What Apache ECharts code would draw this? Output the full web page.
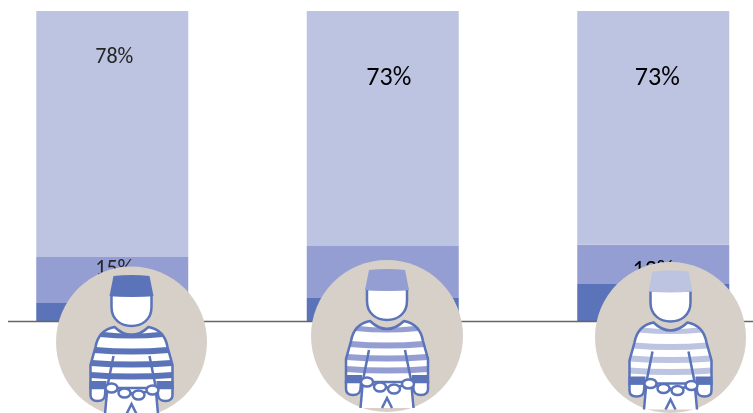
<!DOCTYPE html>
<html><head><meta charset="utf-8">
<style>html,body{margin:0;padding:0;background:#fff}#c{width:753px;height:413px}</style>
<script src="https://cdn.jsdelivr.net/npm/echarts@6/dist/echarts.min.js"></script>
</head><body><div id="c"></div>
<script>
const categories = ['A', 'B', 'C'];
const darkValues = [6.1, 7.7, 12.2];
const midValues = [14.8, 16.7, 12.6];
const lightValues = [79.1, 75.6, 75.2];
const lightLabels = ['78%', '73%', '73%'];
const midLabels = ['15%', '', '13%'];

const DARK = '#5a73b9', MID = '#949ed2', LIGHT = '#bcc4e1', DISC = '#d6d0c9';
const lightLabelStyles = [
  {fontSize: 22, color: '#262626', offset: [2, 35]},
  {fontSize: 26, color: '#000', offset: [6, 54]},
  {fontSize: 26, color: '#000', offset: [4, 54]}
];
const midLabelStyles = [
  {fontSize: 22, color: '#262626', offset: [2, 1]},
  {fontSize: 20, color: '#262626', offset: [0, 0]},
  {fontSize: 24, color: '#000', offset: [0, 14]}
];
const figures = [
  {cx: 131.5, cy: 342, r: 75.5, tone: DARK},
  {cx: 387, cy: 336, r: 76, tone: MID},
  {cx: 670.5, cy: 337.5, r: 75.5, tone: LIGHT}
];

const OUT = DARK;
function hw(y) {
  const t = [[-15,17],[-12,25],[-8.5,30],[5,36],[23,41],[46,41]];
  if (y <= t[0][0]) return t[0][1];
  for (let i = 1; i < t.length; i++) if (y <= t[i][0]) {
    const f = (y - t[i-1][0]) / (t[i][0] - t[i-1][0]);
    return t[i-1][1] + f * (t[i][1] - t[i-1][1]);
  }
  return 41;
}
function stripe(y, h) {
  const a = hw(y), b = hw(y + h);
  return `M${-a},${y} Q0,${y + 3} ${a},${y} L${b},${y + h} Q0,${y + h + 3} ${-b},${y + h} Z`;
}
function link(x, y) {
  return `M${x - 6},${y} a6,4.5 0 1,0 12,0 a6,4.5 0 1,0 -12,0 Z`;
}
const P = (d, fill, stroke, lw) => ({type: 'path', shape: {pathData: d},
  style: {fill: fill || 'none', stroke: stroke || 'none', lineWidth: lw || 0}});
function figure(f) {
  const shirt = 'M-17,-15 Q0,1 17,-15 Q33,-12 36,5 L41,23 L41,46 L24,46 L-24,46 L-41,46 L-41,23 L-36,5 Q-33,-12 -17,-15 Z';
  const kids = [
    {type: 'circle', shape: {cx: 0, cy: 0, r: f.r}, style: {fill: DISC}},
    P('M-24,44 L-26.5,72 L26.5,72 L24,44 Z', '#fff'),
    P('M-24,44 L-26.5,72 M24,44 L26.5,72 M-5,72 L0,62 L5,72', 'none', OUT, 2.5),
    P(shirt, '#fff')
  ];
  [-10, 5, 18, 30].forEach((y, i) => kids.push(P(stripe(y, i === 0 ? 5 : 6), f.tone)));
  kids.push(
    P(shirt, 'none', OUT, 2.5),
    P('M-18,14 L-24,44 M18,14 L24,44', 'none', OUT, 2.5),
    P('M-41,46 L-41,53 Q-41,59 -34,59 Q-27,59 -26.5,53 L-26,46 Z', '#fff', OUT, 2.5),
    P('M41,46 L41,53 Q41,59 34,59 Q27,59 26.5,53 L26,46 Z', '#fff', OUT, 2.5),
    P('M-42,39 L-25,39 L-25,47 L-42,47 Z M42,39 L25,39 L25,47 L42,47 Z', OUT),
    P('M-20,46 Q0,56 21,48', 'none', OUT, 2.5),
    P(link(-20, 46) + link(-7, 51) + link(7, 53) + link(21, 48), '#fff', OUT, 2.5),
    P('M-20,-47 L-20,-35 C-20,-22 -10,-16 0,-16 C10,-16 20,-22 20,-35 L20,-47 Z', '#fff', OUT, 2.5),
    P('M-18,-66 Q0,-68 18,-66 L22,-46 Q0,-44 -22,-46 Z', f.tone)
  );
  return {type: 'group', x: f.cx, y: f.cy, children: kids};
}

const chart = echarts.init(document.getElementById('c'), null, {renderer: 'canvas'});
const font = 'Carlito, Lato, "Open Sans", sans-serif';
chart.setOption({
  animation: false,
  backgroundColor: '#fff',
  textStyle: {fontFamily: font},
  grid: {left: -23, width: 811.5, top: 11, height: 311, outerBoundsMode: 'none'},
  xAxis: {type: 'category', data: categories, axisLine: {show: false}, axisTick: {show: false}, axisLabel: {show: false}},
  yAxis: {type: 'value', min: 0, max: 100, show: false, splitLine: {show: false}},
  series: [
    {type: 'bar', stack: 's', barWidth: 152, data: darkValues, itemStyle: {color: DARK}},
    {type: 'bar', stack: 's', barWidth: 152, itemStyle: {color: MID},
      label: {fontFamily: font},
      data: midValues.map((v, i) => ({value: v, label: {
        show: !!midLabels[i], position: 'insideTop', distance: 0, offset: midLabelStyles[i].offset,
        fontFamily: font, fontSize: midLabelStyles[i].fontSize, color: midLabelStyles[i].color, formatter: midLabels[i]}}))},
    {type: 'bar', stack: 's', barWidth: 152, itemStyle: {color: LIGHT},
      label: {fontFamily: font},
      data: lightValues.map((v, i) => ({value: v, label: {
        show: true, position: 'insideTop', distance: 0, fontFamily: font,
        fontSize: lightLabelStyles[i].fontSize, color: lightLabelStyles[i].color, offset: lightLabelStyles[i].offset,
        formatter: lightLabels[i]}}))},
    {type: 'custom', coordinateSystem: 'none', z: 100, silent: true, clip: false,
      data: figures.map((f, i) => i),
      renderItem: (params) => figure(figures[params.dataIndex])}
  ]
});
const baseY = chart.convertToPixel({yAxisIndex: 0}, 0);
chart.setOption({graphic: {elements: [
  {type: 'line', z: 50, shape: {x1: 8, y1: baseY - 0.5, x2: 753, y2: baseY - 0.5}, style: {stroke: '#666', lineWidth: 1.5}}
]}});
</script></body></html>
